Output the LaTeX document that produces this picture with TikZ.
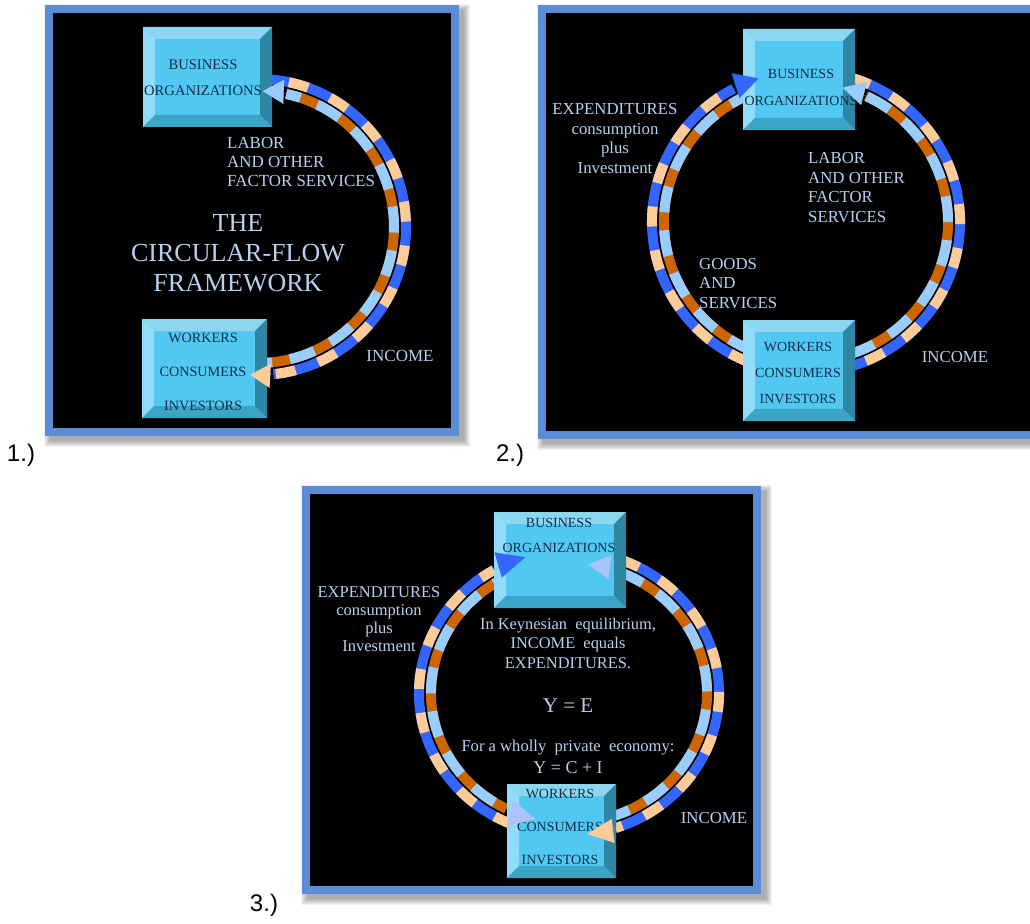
\documentclass[tikz,border=0pt]{standalone}
\usepackage{fontspec}
\setmainfont{Liberation Serif}
\newfontfamily\numfont{Liberation Sans}
\usetikzlibrary{arrows.meta}

\definecolor{frameblue}{RGB}{91,141,214}
\definecolor{bandblue}{RGB}{51,102,255}
\definecolor{peach}{RGB}{255,204,153}
\definecolor{rust}{RGB}{204,102,0}
\definecolor{skyblue}{RGB}{153,204,255}
\definecolor{paleblue}{RGB}{172,194,250}
\definecolor{labeltext}{RGB}{184,208,240}
\definecolor{boxface}{RGB}{80,200,242}
\definecolor{boxtop}{RGB}{140,214,240}
\definecolor{boxleft}{RGB}{145,220,248}
\definecolor{boxright}{RGB}{46,134,162}
\definecolor{boxbottom}{RGB}{59,165,198}
\definecolor{boxink}{RGB}{20,46,72}

% elliptic arc around a centre: style, centre, from, to, x radius, y radius
\newcommand{\ringarc}[6]{\draw[#1] (#2) ++(#3:#5pt and #6pt) arc[start angle=#3, end angle=#4, x radius=#5pt, y radius=#6pt];}
% two-colour striped band: base colour, stripe colour, dash pattern, centre, from, to, rx, ry
\newcommand{\flowband}[8]{%
  \ringarc{line width=10pt,#1}{#4}{#5}{#6}{#7}{#8}%
  \ringarc{line width=10pt,#2,dash pattern=#3}{#4}{#5}{#6}{#7}{#8}}
% arrow head at the end of a band: colour, centre, from, to, rx, ry, tip size
\newcommand{\flowtip}[7]{\ringarc{#1,line width=0.1pt,-{Triangle[#7]}}{#2}{#3}{#4}{#5}{#6}}
% framed black panel with a soft shadow: x1, y1, x2, y2
\newcommand{\panelframe}[4]{%
  \foreach \k in {0,...,6}{\fill[black,opacity=0.05] (#1+5-\k,#2-5+\k) rectangle (#3+5+\k,#4-5-\k);}
  \fill[frameblue] (#1,#2) rectangle (#3,#4);
  \fill[black] (#1+8,#2-8) rectangle (#3-8,#4+8);}

\tikzset{
  bevelbox/.style={rectangle, fill=boxface, inner sep=0pt, path picture={
    \fill[boxtop] (path picture bounding box.north west) -- (path picture bounding box.north east)
      -- ([shift={(-12,-12)}]path picture bounding box.north east) -- ([shift={(12,-12)}]path picture bounding box.north west) -- cycle;
    \fill[boxleft] (path picture bounding box.north west) -- ([shift={(12,-12)}]path picture bounding box.north west)
      -- ([shift={(12,12)}]path picture bounding box.south west) -- (path picture bounding box.south west) -- cycle;
    \fill[boxright] (path picture bounding box.north east) -- (path picture bounding box.south east)
      -- ([shift={(-12,12)}]path picture bounding box.south east) -- ([shift={(-12,-12)}]path picture bounding box.north east) -- cycle;
    \fill[boxbottom] (path picture bounding box.south west) -- ([shift={(12,12)}]path picture bounding box.south west)
      -- ([shift={(-12,12)}]path picture bounding box.south east) -- (path picture bounding box.south east) -- cycle;
  }},
  boxlabel/.style={text=boxink, align=center, inner sep=0pt},
  flowlabel/.style={text=labeltext, inner sep=0pt, font=\fontsize{16.8}{19.6}\selectfont},
  numlabel/.style={text=black, inner sep=0pt, font=\numfont\fontsize{24}{28}\selectfont},
}

\begin{document}
\begin{tikzpicture}[x=1pt,y=1pt]
\useasboundingbox (0,0) rectangle (1030,-923);
\fill[white] (0,0) rectangle (1030,-923);

% ---------- frames ----------
\panelframe{45}{-5}{459}{-436}
\panelframe{538}{-5}{1040}{-439}
\panelframe{302}{-486}{761}{-894}

\coordinate (c1) at (258,-227);
\coordinate (c2) at (806,-222);
\coordinate (c3) at (569,-693);

% ---------- panel 1: half ring ----------
\flowband{bandblue}{peach}{on 20pt off 24pt}{c1}{95}{-84}{148}{148}
\flowband{rust}{skyblue}{on 26pt off 18pt}{c1}{-95}{78}{136}{136}

% ---------- panel 2: full ring ----------
\flowband{bandblue}{peach}{on 20pt off 24pt}{c2}{-112}{-242}{154}{151}
\flowband{rust}{skyblue}{on 26pt off 18pt}{c2}{-112}{-248}{142}{139}
\flowband{rust}{skyblue}{on 26pt off 18pt}{c2}{-72}{65}{142}{139}
\flowband{bandblue}{peach}{on 20pt off 24pt}{c2}{73}{-72}{154}{151}
\flowtip{peach}{c2}{-72}{-82}{154}{151}{length=22pt,width=24pt}

% ---------- panel 3: full ring ----------
\flowband{bandblue}{peach}{on 20pt off 24pt}{c3}{-112}{-240}{150}{142}
\flowband{rust}{skyblue}{on 26pt off 18pt}{c3}{112}{243}{138}{130}
\flowband{rust}{skyblue}{on 26pt off 18pt}{c3}{-75}{71}{138}{130}
\flowband{bandblue}{peach}{on 20pt off 24pt}{c3}{70}{-72}{150}{142}

% ---------- boxes ----------
\node[bevelbox, minimum width=129pt, minimum height=100pt] (bus1) at (207.5,-77) {};
\node[bevelbox, minimum width=125pt, minimum height=99pt] (wrk1) at (204.5,-368.5) {};
\node[bevelbox, minimum width=112pt, minimum height=101pt] (bus2) at (799,-79.5) {};
\node[bevelbox, minimum width=112pt, minimum height=101pt] (wrk2) at (799,-370.5) {};
\node[bevelbox, minimum width=132pt, minimum height=96pt] (bus3) at (560,-560) {};
\node[bevelbox, minimum width=109pt, minimum height=94pt] (wrk3) at (561.5,-831) {};

\node[boxlabel, font=\fontsize{14.6}{26}\selectfont] (bus1t) at (203,-78) {BUSINESS\\ORGANIZATIONS};
\node[boxlabel, font=\fontsize{14.2}{34}\selectfont] (wrk1t) at (203,-372) {WORKERS\\CONSUMERS\\INVESTORS};
\node[boxlabel, font=\fontsize{14}{27}\selectfont] (bus2t) at (801,-87.5) {BUSINESS\\ORGANIZATIONS};
\node[boxlabel, font=\fontsize{14}{26}\selectfont] (wrk2t) at (798,-373) {WORKERS\\CONSUMERS\\INVESTORS};
\node[boxlabel, font=\fontsize{14}{25}\selectfont] (bus3t) at (559,-535.5) {BUSINESS\\ORGANIZATIONS};
\node[boxlabel, font=\fontsize{14}{33}\selectfont] (wrk3t) at (560,-827) {WORKERS\\CONSUMERS\\INVESTORS};

% ---------- arrow heads over the boxes ----------
\flowtip{peach}{c1}{-84}{-93}{148}{148}{length=20pt,width=24pt}
\flowtip{skyblue}{c1}{78}{88}{136}{136}{length=21pt,width=24pt}
\flowtip{bandblue}{c2}{-242}{-252}{154}{151}{length=24pt,width=26pt}
\flowtip{skyblue}{c2}{65}{75}{142}{139}{length=22pt,width=24pt}
\flowtip{bandblue}{c3}{-240}{-253}{150}{142}{length=28pt,width=26pt}
\flowtip{paleblue}{c3}{243}{256}{138}{130}{length=26pt,width=26pt}
\flowtip{paleblue}{c3}{71}{82}{138}{130}{length=22pt,width=24pt}
\flowtip{peach}{c3}{-72}{-83}{150}{142}{length=26pt,width=24pt}

% ---------- panel 1 labels ----------
\node[flowlabel, anchor=west, align=left, font=\fontsize{16.9}{19}\selectfont] (labor1) at (227,-162) {LABOR\\AND OTHER\\FACTOR SERVICES};
\node[flowlabel, align=center, font=\fontsize{26}{30}\selectfont] (title1) at (238,-253) {THE\\CIRCULAR-FLOW\\FRAMEWORK};
\node[flowlabel, font=\fontsize{17}{20}\selectfont] (inc1) at (400,-356) {INCOME};

% ---------- panel 2 labels ----------
\node[flowlabel, align=center] (exp2) at (615,-138.5) {EXPENDITURES\\consumption\\plus\\Investment};
\node[flowlabel, anchor=west, align=left] (labor2) at (808,-187.5) {LABOR\\AND OTHER\\FACTOR\\SERVICES};
\node[flowlabel, anchor=west, align=left] (goods2) at (699,-283.5) {GOODS\\AND\\SERVICES};
\node[flowlabel] (inc2) at (955,-357) {INCOME};

% ---------- panel 3 labels ----------
\node[flowlabel, align=center, font=\fontsize{16.5}{18}\selectfont] (exp3) at (379,-619) {EXPENDITURES\\consumption\\plus\\Investment};
\node[flowlabel, align=center, font=\fontsize{16.4}{19.5}\selectfont] (key3) at (568,-643) {In Keynesian\ \ equilibrium,\\INCOME\ \ equals\\EXPENDITURES.};
\node[flowlabel, font=\fontsize{21}{24}\selectfont] (ye3) at (568,-706) {Y = E};
\node[flowlabel, font=\fontsize{16.6}{19}\selectfont] (priv3) at (568,-748) {For a wholly\ \ private\ \ economy:};
\node[flowlabel, font=\fontsize{18}{21}\selectfont] (yci3) at (568,-768) {Y = C + I};
\node[flowlabel] (inc3) at (714,-818) {INCOME};

% ---------- panel numbers ----------
\node[numlabel] (n1) at (21,-455) {1.)};
\node[numlabel] (n2) at (510,-455) {2.)};
\node[numlabel] (n3) at (264,-905) {3.)};
\end{tikzpicture}
\end{document}
